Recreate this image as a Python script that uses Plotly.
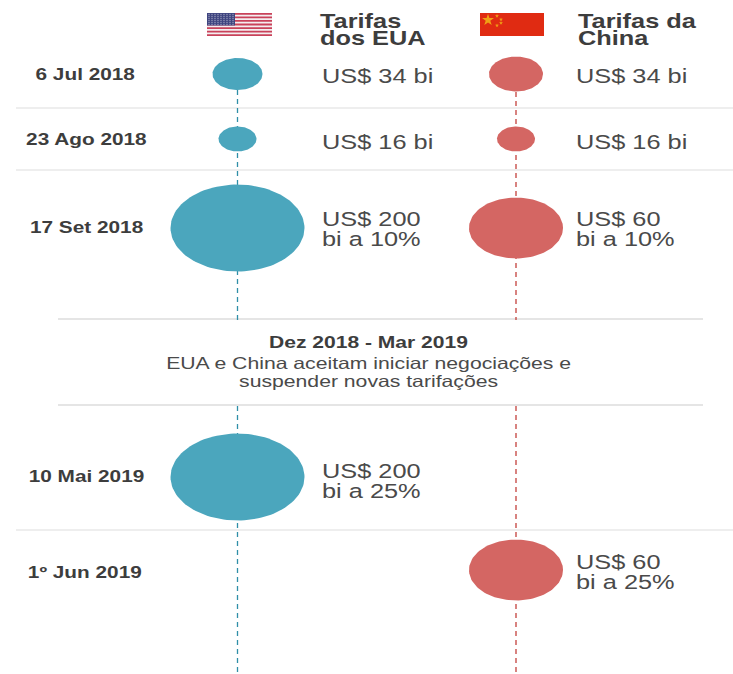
import numpy as np
import plotly.graph_objects as go

# --- data ---
dates = ["6 Jul 2018", "23 Ago 2018", "17 Set 2018", "10 Mai 2019", "1º Jun 2019"]
us_labels = [["US$ 34 bi"], ["US$ 16 bi"], ["US$ 200", "bi a 10%"], ["US$ 200", "bi a 25%"], None]
cn_labels = [["US$ 34 bi"], ["US$ 16 bi"], ["US$ 60", "bi a 10%"], None, ["US$ 60", "bi a 25%"]]
us_values = [34, 16, 200, 200, None]
cn_values = [34, 16, 60, None, 60]

# --- layout (pixel-space axes, ellipse sizes by tariff value) ---
W, H = 733, 674
TEAL, RED = "#4ba6bd", "#d46663"
DARK, GREY = "#3d3d3d", "#4a4a4a"
RULE = "#dedede"
FONT = "Liberation Sans"
X_US, X_CN = 237.5, 516
ROW_Y = [74, 139, 228, 477, 570]
DATE_X = [85, 86, 86, 86, 85]
DATE_Y = [74, 139, 227, 476, 572]
US_D = {34: (50, 32), 16: (38, 25), 200: (134, 87)}
CN_D = {34: (54, 35), 16: (38, 25), 60: (94, 61)}
TXT_Y = [[76, 142, 219, 471, None], [76, 142, 219, None, 562]]
LINE_GAP = 20
STRETCH = 1.3  # the reference's text is horizontally stretched

fig = go.Figure()
t = np.linspace(0, 2 * np.pi, 121)


def bubbles(values, cx, dims, color, name):
    for v, cy, d in zip(values, ROW_Y, dates):
        if v is None:
            continue
        w, h = dims[v]
        fig.add_trace(go.Scatter(
            x=cx + w / 2 * np.cos(t), y=cy + h / 2 * np.sin(t), mode="lines",
            fill="toself", fillcolor=color, line=dict(color=color, width=0),
            name=name, text=f"{d}: US$ {v} bi", hoverinfo="text", showlegend=False))


def hline(x0, x1, y, color=RULE, width=1.2):
    fig.add_shape(type="line", x0=x0, x1=x1, y0=y, y1=y, layer="below",
                  line=dict(color=color, width=width))


def vdash(x, y0, y1, color):
    fig.add_shape(type="line", x0=x, x1=x, y0=y0, y1=y1, layer="below",
                  line=dict(color=color, width=1.3, dash="5px,4px"))


for y in (108, 170, 530):
    hline(16, W, y)
for y in (319, 405):
    hline(58, 703, y, "#dcdcdc", 1.5)

vdash(X_US, 90, 320, "#2f8fa8")
vdash(X_US, 406, 674, "#2f8fa8")
vdash(X_CN, 92, 320, "#c4413c")
vdash(X_CN, 406, 674, "#c4413c")

bubbles(us_values, X_US, US_D, TEAL, "Tarifas dos EUA")
bubbles(cn_values, X_CN, CN_D, RED, "Tarifas da China")


def label(x, y, text, size, color=GREY, bold=False, anchor="left"):
    fig.add_annotation(x=x, y=y, text=f"<b>{text}</b>" if bold else text, showarrow=False,
                       xanchor=anchor, yanchor="middle", align=anchor,
                       font=dict(family=FONT, size=size, color=color))


for d, x, y in zip(dates, DATE_X, DATE_Y):
    label(x, y, d, 16, DARK, True, "center")
for x, labs, ys in ((319.5, us_labels, TXT_Y[0]), (574, cn_labels, TXT_Y[1])):
    for lab, y in zip(labs, ys):
        if lab:
            for i, line in enumerate(lab):
                label(x, y + i * LINE_GAP, line, 19.5)

label(318, 21, "Tarifas", 19.5, DARK, True)
label(318, 38, "dos EUA", 19.5, DARK, True)
label(576, 21, "Tarifas da", 19.5, DARK, True)
label(576, 38, "China", 19.5, DARK, True)
label(368, 342, "Dez 2018 - Mar 2019", 16.2, DARK, True, "center")
label(368, 363, "EUA e China aceitam iniciar negociações e", 16.3, GREY, False, "center")
label(368, 381, "suspender novas tarifações", 16.3, GREY, False, "center")

# US flag
FX0, FX1, FY0, FY1 = 207, 272, 13, 36
fig.add_shape(type="rect", x0=FX0, x1=FX1, y0=FY0, y1=FY1, fillcolor="#f4eef0", line_width=0, layer="below")
for i in range(7):
    y0 = FY0 + i * 2 * (FY1 - FY0) / 13
    fig.add_shape(type="rect", x0=FX0, x1=FX1, y0=y0, y1=y0 + (FY1 - FY0) / 13,
                  fillcolor="#c9425a", line_width=0, layer="below")
fig.add_shape(type="rect", x0=FX0, x1=235, y0=FY0, y1=FY0 + 12.5, fillcolor="#3f4580", line_width=0, layer="below")
cx, cy = np.meshgrid(np.arange(209, 235, 3), np.arange(14.5, 25, 2))
fig.add_trace(go.Scatter(x=cx.ravel(), y=cy.ravel(), mode="markers",
                         marker=dict(size=1.3, color="white", opacity=0.5, line_width=0),
                         hoverinfo="skip", showlegend=False))

# China flag
fig.add_shape(type="rect", x0=480, x1=544, y0=13, y1=36, fillcolor="#e02b12", line_width=0, layer="below")
fig.add_trace(go.Scatter(x=[488, 497, 501, 501, 497], y=[20, 16, 19.5, 23, 25.5], mode="markers",
                         marker=dict(symbol="star", size=[9, 3, 3, 3, 3], color="#f7d417", line_width=0),
                         hoverinfo="skip", showlegend=False))

fig.update_layout(
    width=W, height=H, margin=dict(l=0, r=0, t=0, b=0),
    paper_bgcolor="white", plot_bgcolor="white", showlegend=False,
    xaxis=dict(range=[0, W], visible=False, fixedrange=True),
    yaxis=dict(range=[H, 0], visible=False, fixedrange=True),
)

POST = """
document.body.style.margin='0';document.body.style.overflow='hidden';
var gd=document.querySelector('.plotly-graph-div');
gd.querySelectorAll('.annotation').forEach(function(a){
  var i=+a.getAttribute('data-index'), t=a.querySelector('text');
  t.style.transformBox='fill-box';
  t.style.transformOrigin=(gd.layout.annotations[i].xanchor==='left'?'0% 50%':'50% 50%');
  t.style.transform='scaleX(STRETCH)';
});
""".replace("STRETCH", str(STRETCH))
fig.write_html("out.html", config={"displayModeBar": False}, post_script=POST)
